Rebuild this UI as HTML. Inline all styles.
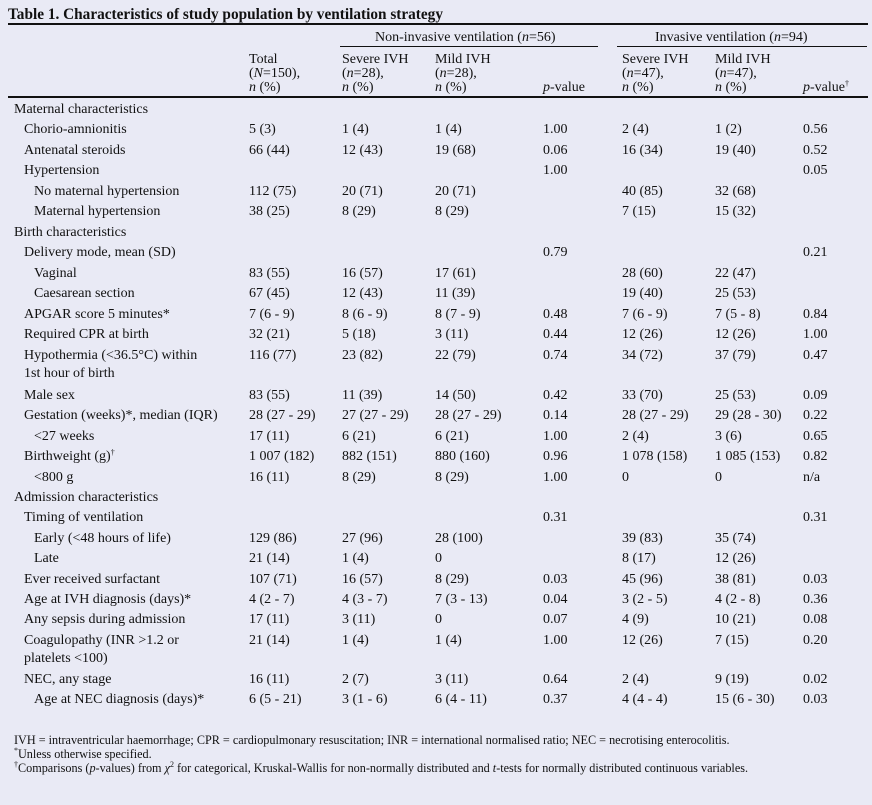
<!DOCTYPE html>
<html><head><meta charset="utf-8"><style>
body{margin:0;width:872px;height:805px;background:#e9eaf5;font-family:"Liberation Serif",serif;color:#111;position:relative;overflow:hidden}
.t{position:absolute;white-space:nowrap;font-size:14px;line-height:14px}
.title{position:absolute;left:8px;top:6px;font-weight:bold;font-size:15.3px}
.hl{position:absolute;height:1px;background:#111}
.fn{position:absolute;left:14px;font-size:12.2px;line-height:13px;white-space:nowrap}
sup{font-size:8px;line-height:0;vertical-align:baseline;position:relative;top:-5px}
</style></head><body>
<div class="title">Table 1. Characteristics of study population by ventilation strategy</div>
<div class="hl" style="left:8px;top:23px;width:860px;height:1.5px"></div>
<div class="t" style="left:375px;top:31px">Non-invasive ventilation (<i>n</i>=56)</div>
<div class="t" style="left:655px;top:31px">Invasive ventilation (<i>n</i>=94)</div>
<div class="hl" style="left:340px;top:46px;width:258px"></div>
<div class="hl" style="left:617px;top:46px;width:250px"></div>
<div class="t" style="left:249px;top:53px">Total<br>(<i>N</i>=150),<br><i>n</i> (%)</div>
<div class="t" style="left:342px;top:53px">Severe IVH<br>(<i>n</i>=28),<br><i>n</i> (%)</div>
<div class="t" style="left:435px;top:53px">Mild IVH<br>(<i>n</i>=28),<br><i>n</i> (%)</div>
<div class="t" style="left:543px;top:81px"><i>p</i>-value</div>
<div class="t" style="left:622px;top:53px">Severe IVH<br>(<i>n</i>=47),<br><i>n</i> (%)</div>
<div class="t" style="left:715px;top:53px">Mild IVH<br>(<i>n</i>=47),<br><i>n</i> (%)</div>
<div class="t" style="left:803px;top:81px"><i>p</i>-value<sup>†</sup></div>
<div class="hl" style="left:8px;top:96px;width:860px;height:1.5px"></div>
<div id="rows"></div>
<script>
const R=[
[101,0,"Maternal characteristics"],
[121,1,"Chorio-amnionitis","5 (3)","1 (4)","1 (4)","1.00","2 (4)","1 (2)","0.56"],
[142,1,"Antenatal steroids","66 (44)","12 (43)","19 (68)","0.06","16 (34)","19 (40)","0.52"],
[162,1,"Hypertension","","","","1.00","","","0.05"],
[183,2,"No maternal hypertension","112 (75)","20 (71)","20 (71)","","40 (85)","32 (68)",""],
[203,2,"Maternal hypertension","38 (25)","8 (29)","8 (29)","","7 (15)","15 (32)",""],
[224,0,"Birth characteristics"],
[244,1,"Delivery mode, mean (SD)","","","","0.79","","","0.21"],
[265,2,"Vaginal","83 (55)","16 (57)","17 (61)","","28 (60)","22 (47)",""],
[285,2,"Caesarean section","67 (45)","12 (43)","11 (39)","","19 (40)","25 (53)",""],
[306,1,"APGAR score 5 minutes*","7 (6 - 9)","8 (6 - 9)","8 (7 - 9)","0.48","7 (6 - 9)","7 (5 - 8)","0.84"],
[326,1,"Required CPR at birth","32 (21)","5 (18)","3 (11)","0.44","12 (26)","12 (26)","1.00"],
[347,1,"Hypothermia (&lt;36.5°C) within","116 (77)","23 (82)","22 (79)","0.74","34 (72)","37 (79)","0.47"],
[365,1,"1st hour of birth"],
[387,1,"Male sex","83 (55)","11 (39)","14 (50)","0.42","33 (70)","25 (53)","0.09"],
[407,1,"Gestation (weeks)*, median (IQR)","28 (27 - 29)","27 (27 - 29)","28 (27 - 29)","0.14","28 (27 - 29)","29 (28 - 30)","0.22"],
[428,2,"&lt;27 weeks","17 (11)","6 (21)","6 (21)","1.00","2 (4)","3 (6)","0.65"],
[448,1,"Birthweight (g)<sup>†</sup>","1 007 (182)","882 (151)","880 (160)","0.96","1 078 (158)","1 085 (153)","0.82"],
[469,2,"&lt;800 g","16 (11)","8 (29)","8 (29)","1.00","0","0","n/a"],
[489,0,"Admission characteristics"],
[509,1,"Timing of ventilation","","","","0.31","","","0.31"],
[530,2,"Early (&lt;48 hours of life)","129 (86)","27 (96)","28 (100)","","39 (83)","35 (74)",""],
[550,2,"Late","21 (14)","1 (4)","0","","8 (17)","12 (26)",""],
[571,1,"Ever received surfactant","107 (71)","16 (57)","8 (29)","0.03","45 (96)","38 (81)","0.03"],
[591,1,"Age at IVH diagnosis (days)*","4 (2 - 7)","4 (3 - 7)","7 (3 - 13)","0.04","3 (2 - 5)","4 (2 - 8)","0.36"],
[611,1,"Any sepsis during admission","17 (11)","3 (11)","0","0.07","4 (9)","10 (21)","0.08"],
[632,1,"Coagulopathy (INR &gt;1.2 or","21 (14)","1 (4)","1 (4)","1.00","12 (26)","7 (15)","0.20"],
[650,1,"platelets &lt;100)"],
[671,1,"NEC, any stage","16 (11)","2 (7)","3 (11)","0.64","2 (4)","9 (19)","0.02"],
[691,2,"Age at NEC diagnosis (days)*","6 (5 - 21)","3 (1 - 6)","6 (4 - 11)","0.37","4 (4 - 4)","15 (6 - 30)","0.03"]];
const X=[249,342,435,543,622,715,803],L=[14,24,34];let h="";
for(const r of R){const y=r[0]+2;h+=`<div class="t" style="left:${L[r[1]]}px;top:${y}px">${r[2]}</div>`;
for(let i=0;i<7;i++)if(r[3+i])h+=`<div class="t" style="left:${X[i]}px;top:${y}px">${r[3+i]}</div>`;}
document.getElementById("rows").innerHTML=h;
</script>
<div class="fn" style="top:734px">IVH = intraventricular haemorrhage; CPR = cardiopulmonary resuscitation; INR = international normalised ratio; NEC = necrotising enterocolitis.</div>
<div class="fn" style="top:748px"><sup>*</sup>Unless otherwise specified.</div>
<div class="fn" style="top:762px"><sup>†</sup>Comparisons (<i>p</i>-values) from <i>χ</i><sup>2</sup> for categorical, Kruskal-Wallis for non-normally distributed and <i>t</i>-tests for normally distributed continuous variables.</div>
</body></html>
